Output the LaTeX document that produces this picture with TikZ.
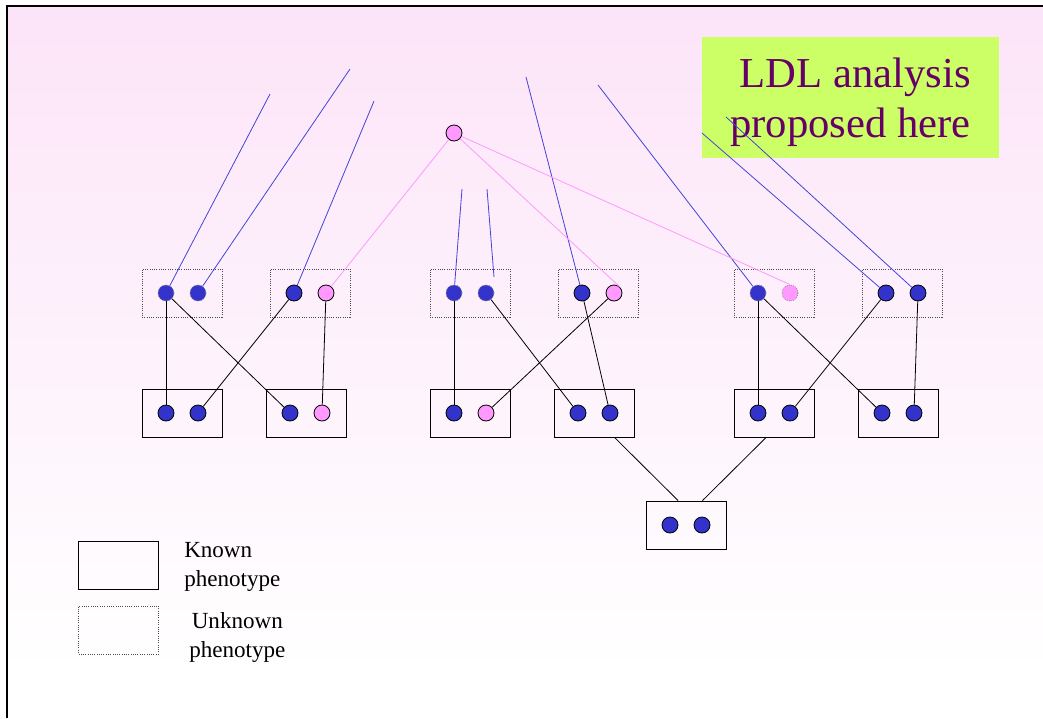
\documentclass[tikz,border=0pt]{standalone}
\usepackage{fontspec}
\setmainfont{Liberation Serif}
\definecolor{bgpink}{HTML}{FCE4F8}
\definecolor{dotblue}{HTML}{3333CC}
\definecolor{dotpink}{HTML}{FF99FF}
\definecolor{lineblue}{HTML}{4444D8}
\definecolor{notegreen}{HTML}{CCFF66}
\definecolor{notetext}{HTML}{660066}
\begin{document}
\begin{tikzpicture}[x=0.75pt,y=-0.75pt,
    knownbox/.style={draw=black,line width=0.7pt,minimum width=60pt,minimum height=36pt,inner sep=0pt},
    unknownbox/.style={draw=black!70,densely dotted,line width=0.7pt,minimum width=60pt,minimum height=36pt,inner sep=0pt},
    bluedot/.style={circle,fill=dotblue,draw=black,line width=0.6pt,minimum size=12pt,inner sep=0pt},
    pinkdot/.style={bluedot,fill=dotpink},
    faint/.style={draw=black!45,densely dotted},
    blueline/.style={draw=lineblue,line width=0.6pt},
    pinkline/.style={draw=dotpink,line width=0.6pt},
    link/.style={draw=black,line width=0.6pt},
    legend/.style={inner sep=0pt,font=\fontsize{17.3}{21.75}\selectfont}]
        \useasboundingbox (0,0) rectangle (1043,718);
        \fill[white] (0,0) rectangle (1043,718);
        \shade[top color=bgpink,bottom color=white] (7,6) rectangle (1043,672);
        \draw[line width=1.6pt] (7,718) -- (7,6) -- (1043,6);

        \node[fill=notegreen,minimum width=222.75pt,minimum height=90.75pt,text=notetext,align=right,
            font=\fontsize{32}{37.5}\selectfont] (note) at (850.5,97.5) {\rule{0pt}{30pt}LDL analysis\\proposed here};

        \node[unknownbox] (tb1) at (182,293) {};
        \node[unknownbox] (tb2) at (310,293) {};
        \node[unknownbox] (tb3) at (470,293) {};
        \node[unknownbox] (tb4) at (598,293) {};
        \node[unknownbox] (tb5) at (774,293) {};
        \node[unknownbox] (tb6) at (902,293) {};
        \node[bluedot,faint] (t1a) at (166,293) {};
        \node[bluedot,faint] (t1b) at (198,293) {};
        \node[bluedot] (t2a) at (294,293) {};
        \node[pinkdot] (t2b) at (326,293) {};
        \node[bluedot,faint] (t3a) at (454,293) {};
        \node[bluedot,faint] (t3b) at (486,293) {};
        \node[bluedot] (t4a) at (582,293) {};
        \node[pinkdot] (t4b) at (614,293) {};
        \node[bluedot,faint] (t5a) at (758,293) {};
        \node[pinkdot,faint] (t5b) at (790,293) {};
        \node[bluedot] (t6a) at (886,293) {};
        \node[bluedot] (t6b) at (918,293) {};

        \node[knownbox] (mb1) at (182,413) {};
        \node[knownbox] (mb2) at (306,413) {};
        \node[knownbox] (mb3) at (470,413) {};
        \node[knownbox] (mb4) at (594,413) {};
        \node[knownbox] (mb5) at (774,413) {};
        \node[knownbox] (mb6) at (898,413) {};
        \node[bluedot] (m1a) at (166,413) {};
        \node[bluedot] (m1b) at (198,413) {};
        \node[bluedot] (m2a) at (290,413) {};
        \node[pinkdot] (m2b) at (322,413) {};
        \node[bluedot] (m3a) at (454,413) {};
        \node[pinkdot] (m3b) at (486,413) {};
        \node[bluedot] (m4a) at (578,413) {};
        \node[bluedot] (m4b) at (610,413) {};
        \node[bluedot] (m5a) at (758,413) {};
        \node[bluedot] (m5b) at (790,413) {};
        \node[bluedot] (m6a) at (882,413) {};
        \node[bluedot] (m6b) at (914,413) {};

        \node[knownbox] (bb) at (686,525) {};
        \node[bluedot] (b1a) at (670,525) {};
        \node[bluedot] (b1b) at (702,525) {};

        \node[pinkdot] (pk) at (454,133) {};

        \coordinate (u1) at (270,94);
        \coordinate (u2) at (350,69);
        \coordinate (u3) at (374,101);
        \coordinate (u4) at (462,189);
        \coordinate (u5) at (487,189);
        \coordinate (u6) at (494,277);
        \coordinate (u7) at (526,77);
        \coordinate (u8) at (598,85);
        \coordinate (u9) at (702,133);
        \coordinate (u10) at (726,117);
        \draw[blueline] (u1) -- (t1a);
        \draw[blueline] (u2) -- (t1b);
        \draw[blueline] (u3) -- (t2a);
        \draw[blueline] (u4) -- (t3a);
        \draw[blueline] (u5) -- (u6);
        \draw[blueline] (u7) -- (t4a);
        \draw[blueline] (u8) -- (t5a);
        \draw[blueline] (u9) -- (t6a);
        \draw[blueline] (u10) -- (t6b);

        \draw[pinkline] (pk) -- (t2b);
        \draw[pinkline] (pk) -- (t4b.north east);
        \draw[pinkline] (pk) -- (t5b.north);

        \draw[link] (t1a) -- (m1a);
        \draw[link] (t1a) -- (m2a);
        \draw[link] (t2a) -- (m1b);
        \draw[link] (t2b) -- (m2b);
        \draw[link] (t3a) -- (m3a);
        \draw[link] (t3b) -- (m4a);
        \draw[link] (t4a) -- (m4b);
        \draw[link] (t4b) -- (m3b);
        \draw[link] (t5a) -- (m5a);
        \draw[link] (t5a) -- (m6a);
        \draw[link] (t6a) -- (m5b);
        \draw[link] (t6b) -- (m6b);
        \draw[link] (mb4.-50) -- (bb.108);
        \draw[link] (mb5.-108) -- (bb.56);

        \node[knownbox] (lk) at (118.5,565.5) {};
        \node[unknownbox] (lu) at (118.5,630) {};
        \node[legend,anchor=north west,align=left] (lkt) at (184,542) {Known\\phenotype};
        \node[legend,anchor=north west,align=center] (lut) at (189,612) {Unknown\\phenotype};
    \end{tikzpicture}
\end{document}
